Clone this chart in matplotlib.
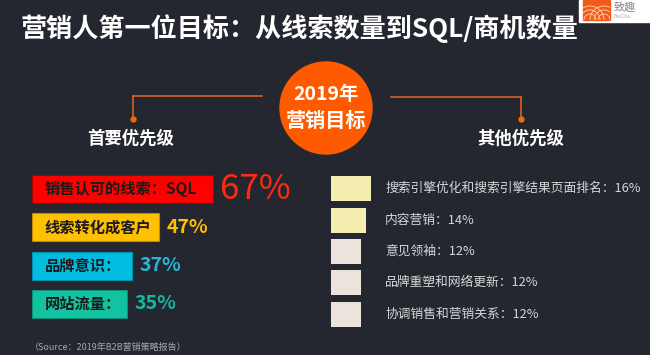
import matplotlib

matplotlib.use("Agg")
import matplotlib.pyplot as plt
from matplotlib.patches import Circle, Rectangle

plt.rcParams["font.family"] = ["Noto Sans CJK SC", "DejaVu Sans"]

BG = "#252730"

# data
title = "营销人第一位目标：从线索数量到SQL/商机数量"
badge_lines = ["2019年", "营销目标"]
left_heading = "首要优先级"
right_heading = "其他优先级"

primary_labels = ["销售认可的线索：SQL", "线索转化成客户", "品牌意识：", "网站流量："]
primary_values = [67, 47, 37, 35]
primary_colors = ["#ff0000", "#ffc000", "#00bde0", "#13c2a0"]
primary_text_colors = ["#ff2a10", "#ffc000", "#25b8dc", "#17b8a0"]

other_labels = [
    "搜索引擎优化和搜索引擎结果页面排名",
    "内容营销",
    "意见领袖",
    "品牌重塑和网络更新",
    "协调销售和营销关系",
]
other_values = [16, 14, 12, 12, 12]
other_colors = ["#f4eeb0", "#f4eeb0", "#ece4dc", "#ece4dc", "#ece4dc"]

source = "（Source：2019年B2B营销策略报告）"

W, H = 650, 355
fig = plt.figure(figsize=(W / 100, H / 100), dpi=100)
fig.patch.set_facecolor(BG)


def px_axes(x0, y0, x1, y1):
    # axes placed by pixel box (top-left origin)
    return fig.add_axes([x0 / W, 1 - y1 / H, (x1 - x0) / W, (y1 - y0) / H])


# overlay for decorations
deco = px_axes(0, 0, W, H)
deco.set_xlim(0, W)
deco.set_ylim(H, 0)
deco.set_axis_off()

deco.text(20, 29, title, color="white", fontsize=18.8, fontweight="bold",
          va="center", ha="left")

# logo corner
deco.add_patch(Rectangle((579, 0), 75, 22, color="white", zorder=2))
logo = Rectangle((583, 0), 27, 20, color="#f25a1a", zorder=3)
deco.add_patch(logo)
for r in (6, 10, 14):
    for cx in (590, 604):
        arc = Circle((cx, 20), r, fill=False, ec="#ffd9b0", lw=0.6, zorder=4)
        deco.add_patch(arc)
        arc.set_clip_path(logo)
deco.text(614, 8, "致趣", color="#888888", fontsize=8, va="center", zorder=6)
deco.text(614, 17, "BesCha", color="#aaaaaa", fontsize=3.5, va="center", zorder=6)

# connectors
line_c = "#d8601e"
deco.plot([133, 262], [96, 96], color=line_c, lw=1.2)
deco.plot([133, 133], [96, 118], color=line_c, lw=1.2)
deco.plot([133], [119], "o", color="#f26a10", ms=3.5)
deco.plot([391, 521], [97, 97], color=line_c, lw=1.2)
deco.plot([521, 521], [97, 118], color=line_c, lw=1.2)
deco.plot([521], [119], "o", color="#f26a10", ms=3.5)

deco.add_patch(Circle((326, 108), 46, color="#ff5a00", zorder=3))
deco.text(326, 95, badge_lines[0], color="white", fontsize=14, fontweight="bold",
          ha="center", va="center", zorder=4)
deco.text(326, 120, badge_lines[1], color="white", fontsize=14.5, fontweight="bold",
          ha="center", va="center", zorder=4)

deco.text(131, 139, left_heading, color="white", fontsize=12.5, fontweight="bold",
          ha="center", va="center")
deco.text(521, 139, right_heading, color="white", fontsize=12.5, fontweight="bold",
          ha="center", va="center")

deco.text(30, 347, source, color="#a8a8a8", fontsize=6.5, va="center")

# primary priorities: 2.7 px per percent
ax_l = px_axes(32, 170, 32 + 2.7 * 100, 323)
ax_l.set_facecolor("none")
ax_l.set_xlim(0, 100)
ax_l.set_ylim(len(primary_values) - 0.5, -0.5)
ax_l.set_axis_off()
ypos = range(len(primary_values))
edges = ["#a00000", "#c08a00", "#0090b0", "#0c9078"]
ax_l.barh(ypos, primary_values, height=0.73, color=primary_colors,
          edgecolor=edges, linewidth=0.8)
for i, (lab, val) in enumerate(zip(primary_labels, primary_values)):
    ax_l.text(4.6, i, lab, color="#1a1a1a", fontsize=11, fontweight="bold",
              va="center", ha="left")
    if i == 0:
        ax_l.text(val + 2.5, i, f"{val}%", color=primary_text_colors[i],
                  fontsize=25, fontweight="light", va="center", ha="left")
    else:
        ax_l.text(val + 2.8, i, f"{val}%", color=primary_text_colors[i],
                  fontsize=14, fontweight="bold", va="center", ha="left")

# other priorities: 2.5 px per percent
ax_r = px_axes(331, 173, 331 + 2.5 * 100, 330)
ax_r.set_facecolor("none")
ax_r.set_xlim(0, 100)
ax_r.set_ylim(len(other_values) - 0.5, -0.5)
ax_r.set_axis_off()
ax_r.barh(range(len(other_values)), other_values, height=0.8, color=other_colors)
for i, (lab, val) in enumerate(zip(other_labels, other_values)):
    ax_r.text(21.6, i, f"{lab}：{val}%", color="#d6d6d6", fontsize=9.2,
              va="center", ha="left", clip_on=False)

fig.savefig("out.png", dpi=100, facecolor=BG)
